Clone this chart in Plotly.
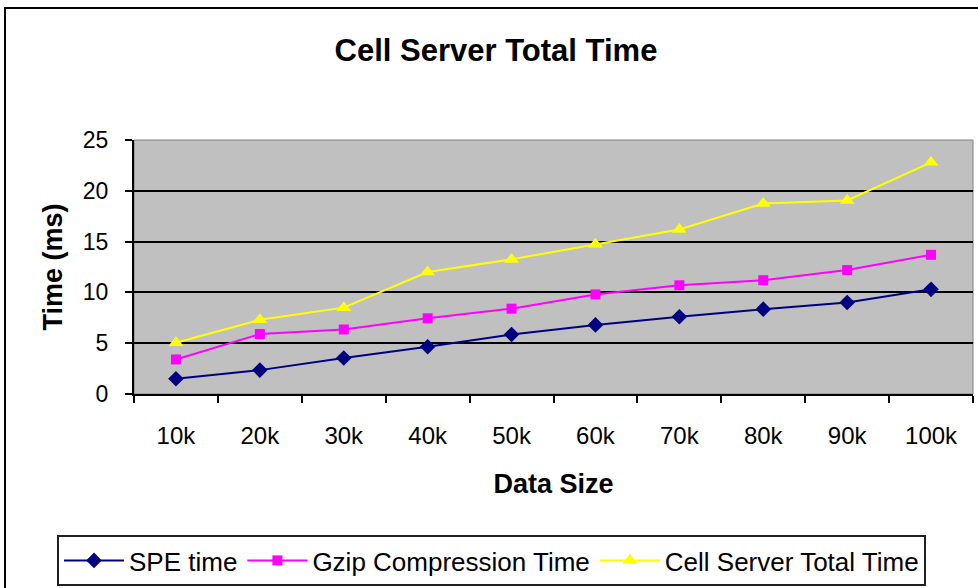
import plotly.graph_objects as go

# Data sizes (categories) and measured times in ms
data_sizes = ["10k", "20k", "30k", "40k", "50k", "60k", "70k", "80k", "90k", "100k"]
spe_time = [1.5, 2.35, 3.55, 4.65, 5.85, 6.8, 7.6, 8.35, 9.0, 10.3]
gzip_time = [3.4, 5.9, 6.35, 7.45, 8.4, 9.8, 10.7, 11.2, 12.2, 13.7]
cell_total_time = [5.05, 7.3, 8.5, 12.0, 13.25, 14.75, 16.2, 18.75, 19.05, 22.8]
y_ticks = [0, 5, 10, 15, 20, 25]

FONT = "Arial, Liberation Sans, sans-serif"

fig = go.Figure()
fig.add_trace(go.Scatter(
    x=data_sizes, y=spe_time, name="SPE time", mode="lines+markers",
    line=dict(color="#000080", width=2),
    marker=dict(symbol="diamond", size=12, color="#000080"),
))
fig.add_trace(go.Scatter(
    x=data_sizes, y=gzip_time, name="Gzip Compression Time", mode="lines+markers",
    line=dict(color="#FF00FF", width=2),
    marker=dict(symbol="square", size=10, color="#FF00FF"),
))
fig.add_trace(go.Scatter(
    x=data_sizes, y=cell_total_time, name="Cell Server Total Time", mode="lines+markers",
    line=dict(color="#FFFF00", width=2),
    marker=dict(symbol="triangle-up", size=13, color="#FFFF00"),
))

L, R, T, B = 134, 5, 140, 194
W, H = 978, 588
pw, ph = W - L - R, H - T - B


def px_x(x):
    return (x - L) / pw


def px_y(y):
    return (H - B - y) / ph


fig.update_layout(
    width=W, height=H,
    margin=dict(l=L, r=R, t=T, b=B, pad=0, autoexpand=False),
    paper_bgcolor="white",
    plot_bgcolor="#C0C0C0",
    font=dict(family=FONT, color="black", size=24),
    title=dict(
        text="<b>Cell Server Total Time</b>",
        x=496 / W, xanchor="center",
        y=1 - 50 / H, yanchor="middle",
        font=dict(family=FONT, size=31, color="black"),
    ),
    showlegend=True,
    legend=dict(
        orientation="h",
        x=px_x(57), xanchor="left",
        y=px_y(535), yanchor="top",
        bordercolor="#202020", borderwidth=2,
        bgcolor="white",
        font=dict(family=FONT, size=26, color="black"),
        itemwidth=60,
        tracegroupgap=0,
    ),
    xaxis=dict(
        type="category",
        range=[-0.5, 9.5],
        showline=True, linecolor="black", linewidth=2,
        ticks="outside", ticklen=7, tickwidth=2, tickcolor="black",
        tickson="boundaries",
        ticklabelstandoff=19,
        showgrid=False,
        tickfont=dict(family=FONT, size=24),
        title=dict(text="<b>Data Size</b>", font=dict(family=FONT, size=27), standoff=26),
    ),
    yaxis=dict(
        range=[0, 25],
        tickvals=y_ticks,
        showline=True, linecolor="black", linewidth=2,
        ticks="outside", ticklen=7, tickwidth=2, tickcolor="black",
        ticklabelstandoff=12,
        showgrid=True, gridcolor="black", gridwidth=2,
        zeroline=False,
        tickfont=dict(family=FONT, size=23),
        title=dict(text="<b>Time (ms)</b>", font=dict(family=FONT, size=27), standoff=12),
    ),
    shapes=[
        # outer chart frame
        dict(type="rect", xref="paper", yref="paper",
             x0=px_x(5), x1=px_x(990), y0=px_y(600), y1=px_y(8),
             line=dict(color="black", width=2), fillcolor="rgba(0,0,0,0)", layer="below"),
        # plot-area frame on top and right
        dict(type="rect", xref="paper", yref="paper",
             x0=0, x1=1, y0=0, y1=1,
             line=dict(color="#808080", width=1), fillcolor="rgba(0,0,0,0)", layer="below"),
    ],
)

fig.write_html("out.html")
